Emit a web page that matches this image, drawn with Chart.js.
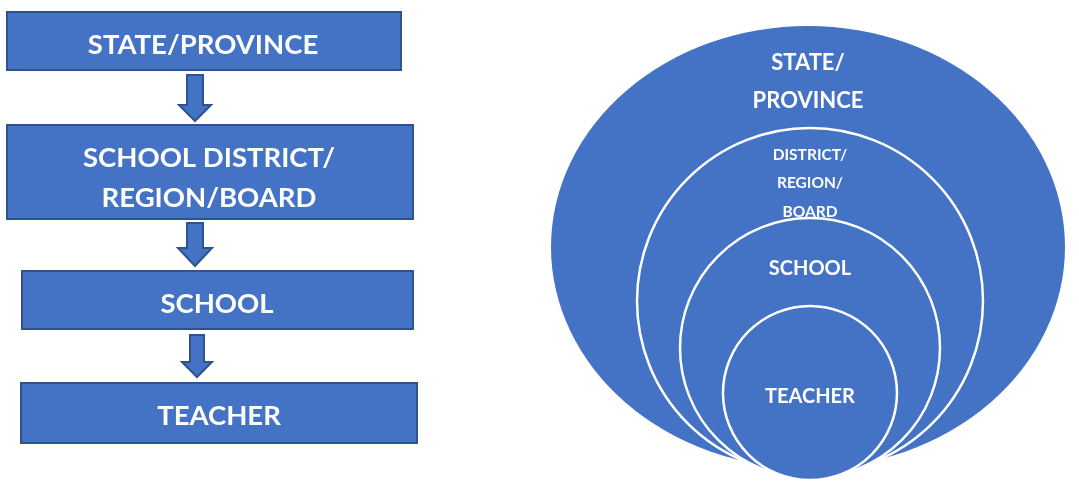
<!DOCTYPE html>
<html><head><meta charset="utf-8">
<script src="https://cdn.jsdelivr.net/npm/chart.js@4.4.1/dist/chart.umd.min.js"></script>
<style>html,body{margin:0;padding:0;background:#fff;overflow:hidden}#wrap{width:1079px;height:481px;position:relative}</style>
</head><body><div id="wrap"><canvas id="c"></canvas></div>
<script>
// ---- Left flow chart (diagram units, 1 unit = 1 px) ----
const boxLabels = [['STATE/PROVINCE'], ['SCHOOL DISTRICT/', 'REGION/BOARD'], ['SCHOOL'], ['TEACHER']];
const boxLeft   = [7, 7, 22, 21];
const boxRight  = [401, 413, 413, 417];
const boxTop    = [12, 125, 271, 383];
const boxBottom = [70, 219, 329, 443];
const boxLabelX = [203, 209, 217, 219];
const boxLabelBaselines = [[54], [167, 207], [313], [425]];

const arrowX        = [195, 195, 197];
const arrowTop      = [75, 223, 335];
const arrowHeadTop  = [105, 248, 362];
const arrowTip      = [121, 266, 377];
const arrowShaftHalf = [8, 8, 7];
const arrowHeadHalf  = [16, 17, 15];

// ---- Right nested diagram ----
const ellipseCenter = [808, 247];
const ellipseRadii  = [257, 221];
const ellipseLabel  = ['STATE/', 'PROVINCE'];
const ellipseLabelBaselines = [70, 108];

const circleCx = [810, 810, 810];
const circleCy = [301, 348, 393];
const circleR  = [173, 130, 87];
const circleLabels = [['DISTRICT/', 'REGION/', 'BOARD'], ['SCHOOL'], ['TEACHER']];
const circleLabelBaselines = [[160, 188, 217], [275], [403]];

const FILL = '#4472C4', EDGE = '#2F528F';
const FONT = 'Lato, "Open Sans", sans-serif';

const diagramPlugin = {
  id: 'diagram',
  beforeDatasetsDraw(chart) {
    const ctx = chart.ctx, xs = chart.scales.x, ys = chart.scales.y;
    const px = v => xs.getPixelForValue(v), py = v => ys.getPixelForValue(v);
    const sx = d => Math.abs(px(d) - px(0)), sy = d => Math.abs(py(d) - py(0));
    ctx.save();
    // boxes
    for (let i = 0; i < boxLabels.length; i++) {
      const x0 = px(boxLeft[i]), x1 = px(boxRight[i]), y0 = py(boxTop[i]), y1 = py(boxBottom[i]);
      ctx.fillStyle = FILL; ctx.strokeStyle = EDGE; ctx.lineWidth = 2;
      ctx.fillRect(x0, y0, x1 - x0, y1 - y0);
      ctx.strokeRect(x0, y0, x1 - x0, y1 - y0);
      ctx.fillStyle = '#fff'; ctx.textAlign = 'center'; ctx.textBaseline = 'alphabetic';
      ctx.font = 'bold 27.5px ' + FONT;
      boxLabels[i].forEach((t, k) => ctx.fillText(t, px(boxLabelX[i]), py(boxLabelBaselines[i][k])));
    }
    // arrows
    for (let i = 0; i < arrowX.length; i++) {
      const cx = arrowX[i], s = arrowShaftHalf[i], h = arrowHeadHalf[i];
      ctx.beginPath();
      ctx.moveTo(px(cx - s), py(arrowTop[i]));
      ctx.lineTo(px(cx + s), py(arrowTop[i]));
      ctx.lineTo(px(cx + s), py(arrowHeadTop[i]));
      ctx.lineTo(px(cx + h), py(arrowHeadTop[i]));
      ctx.lineTo(px(cx), py(arrowTip[i]));
      ctx.lineTo(px(cx - h), py(arrowHeadTop[i]));
      ctx.lineTo(px(cx - s), py(arrowHeadTop[i]));
      ctx.closePath();
      ctx.fillStyle = FILL; ctx.fill();
      ctx.strokeStyle = EDGE; ctx.lineWidth = 2; ctx.lineJoin = 'miter'; ctx.stroke();
    }
    // ellipse
    ctx.beginPath();
    ctx.ellipse(px(ellipseCenter[0]), py(ellipseCenter[1]), sx(ellipseRadii[0]), sy(ellipseRadii[1]), 0, 0, Math.PI * 2);
    ctx.fillStyle = FILL; ctx.fill();
    ctx.fillStyle = '#fff'; ctx.textAlign = 'center';
    ctx.font = 'bold 22px ' + FONT;
    ellipseLabel.forEach((t, k) => ctx.fillText(t, px(ellipseCenter[0]), py(ellipseLabelBaselines[k])));
    // circles
    const sizes = [15.5, 20, 20];
    for (let i = 0; i < circleCx.length; i++) {
      ctx.beginPath();
      ctx.arc(px(circleCx[i]), py(circleCy[i]), sx(circleR[i]), 0, Math.PI * 2);
      ctx.fillStyle = FILL; ctx.fill();
      ctx.strokeStyle = '#fff'; ctx.lineWidth = 2.5; ctx.stroke();
    }
    for (let i = 0; i < circleCx.length; i++) {
      ctx.fillStyle = '#fff'; ctx.font = 'bold ' + sizes[i] + 'px ' + FONT;
      circleLabels[i].forEach((t, k) => ctx.fillText(t, px(circleCx[i]), py(circleLabelBaselines[i][k])));
    }
    ctx.restore();
  }
};

new Chart(document.getElementById('c'), {
  type: 'scatter',
  data: { datasets: [{ data: [], pointRadius: 0 }] },
  options: {
    responsive: true, maintainAspectRatio: false, animation: false,
    layout: { padding: 0 },
    plugins: { legend: { display: false }, tooltip: { enabled: false } },
    scales: {
      x: { type: 'linear', min: 0, max: 1079, display: false },
      y: { type: 'linear', min: 0, max: 481, reverse: true, display: false }
    }
  },
  plugins: [diagramPlugin]
});
</script></body></html>
